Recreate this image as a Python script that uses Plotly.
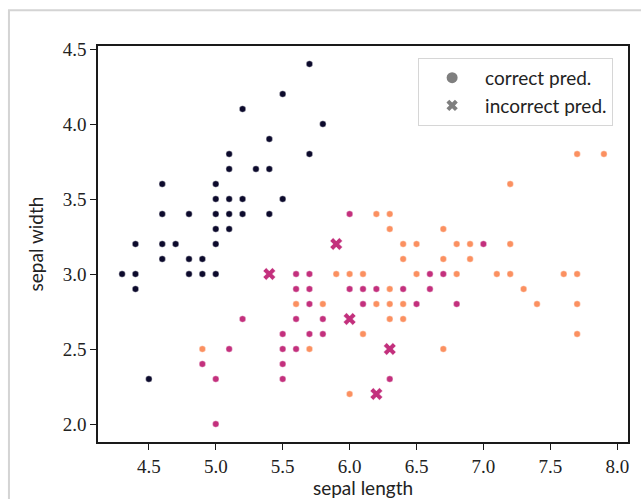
import plotly.graph_objects as go

# Sepal measurements grouped by true species; misclassified samples kept separately
setosa_len = [4.3, 4.4, 4.4, 4.4, 4.5, 4.6, 4.6, 4.6, 4.6, 4.7, 4.8, 4.8, 4.8, 4.9, 4.9,
              5.0, 5.0, 5.0, 5.0, 5.0, 5.0, 5.1, 5.1, 5.1, 5.1, 5.1, 5.2, 5.2, 5.2, 5.3,
              5.4, 5.4, 5.4, 5.5, 5.5, 5.7, 5.7, 5.8]
setosa_wid = [3.0, 2.9, 3.0, 3.2, 2.3, 3.1, 3.2, 3.4, 3.6, 3.2, 3.0, 3.1, 3.4, 3.0, 3.1,
              3.0, 3.2, 3.3, 3.4, 3.5, 3.6, 3.3, 3.4, 3.5, 3.7, 3.8, 3.4, 3.5, 4.1, 3.7,
              3.4, 3.7, 3.9, 3.5, 4.2, 3.8, 4.4, 4.0]

versicolor_len = [4.9, 5.0, 5.0, 5.1, 5.2, 5.5, 5.5, 5.5, 5.5, 5.6, 5.6, 5.6, 5.6, 5.7,
                  5.7, 5.7, 5.7, 5.8, 5.8, 6.0, 6.0, 6.1, 6.1, 6.2, 6.3, 6.4, 6.5, 6.6,
                  6.6, 6.7, 6.8, 7.0]
versicolor_wid = [2.4, 2.0, 2.3, 2.5, 2.7, 2.3, 2.4, 2.5, 2.6, 2.5, 2.7, 2.9, 3.0, 2.6,
                  2.8, 2.9, 3.0, 2.6, 2.7, 2.9, 3.4, 2.8, 2.9, 2.9, 2.3, 2.9, 2.8, 2.9,
                  3.0, 3.0, 2.8, 3.2]

virginica_len = [4.9, 5.6, 5.7, 5.8, 5.9, 6.0, 6.0, 6.1, 6.1, 6.2, 6.2, 6.3, 6.3, 6.3,
                 6.3, 6.3, 6.4, 6.4, 6.4, 6.4, 6.5, 6.5, 6.7, 6.7, 6.7, 6.8, 6.8, 6.9,
                 6.9, 7.1, 7.2, 7.2, 7.2, 7.3, 7.4, 7.6, 7.7, 7.7, 7.7, 7.7, 7.9]
virginica_wid = [2.5, 2.8, 2.5, 2.8, 3.0, 2.2, 3.0, 2.6, 3.0, 2.8, 3.4, 2.7, 2.8, 2.9,
                 3.3, 3.4, 2.7, 2.8, 3.1, 3.2, 3.0, 3.2, 2.5, 3.1, 3.3, 3.0, 3.2, 3.1,
                 3.2, 3.0, 3.0, 3.2, 3.6, 2.9, 2.8, 3.0, 2.6, 2.8, 3.0, 3.8, 3.8]

wrong_len = [5.4, 5.9, 6.0, 6.2, 6.3]
wrong_wid = [3.0, 3.2, 2.7, 2.2, 2.5]

x_ticks = [4.5, 5.0, 5.5, 6.0, 6.5, 7.0, 7.5, 8.0]
y_ticks = [2.0, 2.5, 3.0, 3.5, 4.0, 4.5]

DARK = "#0c0a2c"
MAGENTA = "#c3307d"
ORANGE = "#fb9060"
GREY = "#7f7f7f"

dot = dict(size=6.5, line=dict(color="white", width=0.4))

fig = go.Figure()
for xs, ys, col in [(setosa_len, setosa_wid, DARK),
                    (versicolor_len, versicolor_wid, MAGENTA),
                    (virginica_len, virginica_wid, ORANGE)]:
    fig.add_trace(go.Scatter(x=xs, y=ys, mode="markers", showlegend=False,
                             marker=dict(color=col, symbol="circle", **dot),
                             hoverinfo="x+y"))

fig.add_trace(go.Scatter(x=wrong_len, y=wrong_wid, mode="markers", showlegend=False,
                         marker=dict(color=MAGENTA, symbol="x", size=11,
                                     line=dict(color="white", width=0.4))))

# Legend entries in neutral grey
fig.add_trace(go.Scatter(x=[None], y=[None], mode="markers", name="correct pred.",
                         marker=dict(color=GREY, symbol="circle", size=11)))
fig.add_trace(go.Scatter(x=[None], y=[None], mode="markers", name="incorrect pred.",
                         marker=dict(color=GREY, symbol="x", size=10)))

SERIF = "Liberation Serif, Times New Roman, serif"

axis_common = dict(showgrid=False, zeroline=False, showline=True, mirror=True,
                   automargin=False,
                   linecolor="#1a1a1a", linewidth=1.6, ticks="outside", ticklen=6,
                   tickwidth=1.4, tickcolor="#1a1a1a",
                   tickfont=dict(family=SERIF, size=19, color="#222222"),
                   title_font=dict(family="Lato", size=19, color="#222222"))

fig.update_xaxes(range=[4.12, 8.08], tickvals=x_ticks,
                 ticktext=[f"{v:.1f}" for v in x_ticks],
                 title_text="sepal length", title_standoff=8, **axis_common)
fig.update_yaxes(range=[1.88, 4.52], tickvals=y_ticks,
                 ticktext=[f"{v:.1f}" for v in y_ticks],
                 title_text="sepal width", title_standoff=14, **axis_common)

fig.update_layout(
    width=641, height=499,
    margin=dict(l=98, r=13, t=46, b=57),
    paper_bgcolor="white", plot_bgcolor="white",
    legend=dict(x=0.604, y=0.97, xanchor="left", yanchor="top",
                bgcolor="rgba(255,255,255,0.85)", bordercolor="#d6d6d6", borderwidth=1,
                font=dict(family="Lato", size=19, color="#222222"),
                itemwidth=56, tracegroupgap=2),
    shapes=[dict(type="rect", xref="paper", yref="paper",
                 x0=-0.168, x1=1.3, y0=-0.5, y1=1.09,
                 line=dict(color="#d4d4d4", width=2), fillcolor="rgba(0,0,0,0)",
                 layer="below")],
)

fig.write_html("out.html")
